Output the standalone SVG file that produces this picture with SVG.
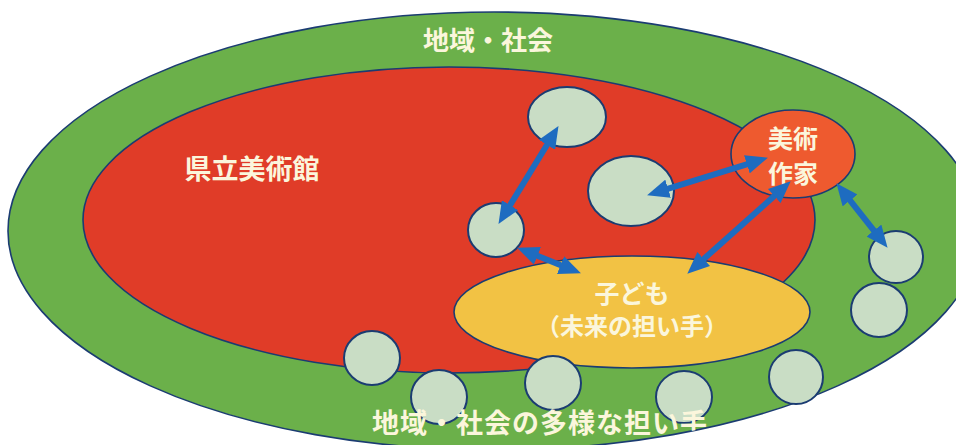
<svg xmlns="http://www.w3.org/2000/svg" width="956" height="445" viewBox="0 0 956 445">
  <defs>
    <style>
      .ring { stroke: #1b3c72; stroke-width: 1.6; }
      .member { fill: #c9ddc5; stroke: #1b3c72; stroke-width: 2; }
      .label { font-family: "Noto Sans CJK JP", "Noto Sans CJK SC", sans-serif; font-weight: bold; fill: #fbf6dc; text-anchor: middle; }
      .conn { stroke: #1e6cc0; stroke-width: 6; fill: none; marker-start: url(#head); marker-end: url(#head); }
    </style>
    <marker id="head" viewBox="0 0 22 19" refX="9" refY="9.5" markerWidth="22" markerHeight="19" markerUnits="userSpaceOnUse" orient="auto-start-reverse">
      <path d="M0,0 L22,9.5 L0,19 z" fill="#1e6cc0"/>
    </marker>
    <clipPath id="outerClip">
      <ellipse cx="494" cy="231" rx="486" ry="219"/>
    </clipPath>
  </defs>

  <rect x="0" y="0" width="956" height="445" fill="#ffffff"/>

  <g id="society">
    <ellipse class="ring" cx="494" cy="231" rx="486" ry="219" fill="#6bb04a"/>
    <text class="label" x="488" y="50" font-size="26">地域・社会</text>
  </g>

  <g id="museum">
    <ellipse class="ring" cx="449" cy="220" rx="366" ry="153" fill="#e03c28"/>
    <text class="label" x="252" y="179" font-size="27">県立美術館</text>
  </g>

  <g id="children">
    <ellipse class="ring" cx="632" cy="312" rx="178" ry="56" fill="#f2c244"/>
    <text class="label" font-size="25"><tspan x="632" y="303">子ども</tspan><tspan x="632" y="335" font-size="24">（未来の担い手）</tspan></text>
  </g>

  <g id="member-1"><ellipse class="member" cx="567" cy="117" rx="39" ry="30"/></g>
  <g id="member-2"><ellipse class="member" cx="631" cy="191" rx="43" ry="35"/></g>
  <g id="member-3"><ellipse class="member" cx="496" cy="230" rx="28" ry="27"/></g>
  <g id="member-4"><ellipse class="member" cx="896" cy="257" rx="27" ry="26"/></g>
  <g id="member-5"><ellipse class="member" cx="879" cy="310" rx="28" ry="27"/></g>
  <g id="member-6"><ellipse class="member" cx="372" cy="358" rx="28" ry="27"/></g>
  <g id="member-7"><ellipse class="member" cx="439" cy="397" rx="28" ry="27"/></g>
  <g id="member-8"><ellipse class="member" cx="553" cy="383" rx="28" ry="27"/></g>
  <g id="member-9"><ellipse class="member" cx="684" cy="397" rx="28" ry="26"/></g>
  <g id="member-10"><ellipse class="member" cx="796" cy="377" rx="27" ry="27"/></g>

  <g id="artist">
    <ellipse class="ring" cx="793" cy="154" rx="62" ry="44" fill="#ee5a2f"/>
    <text class="label" font-size="25"><tspan x="793" y="148">美術</tspan><tspan x="793" y="183">作家</tspan></text>
  </g>

  <g id="connectors">
    <line class="conn" x1="551.7" y1="137.2" x2="505.3" y2="212.8"/>
    <line class="conn" x1="659.5" y1="191.4" x2="755.5" y2="161.6"/>
    <line class="conn" x1="529.1" y1="252.5" x2="568.9" y2="268.5"/>
    <line class="conn" x1="781" y1="190" x2="697" y2="265"/>
    <line class="conn" x1="844.5" y1="193.4" x2="879.5" y2="237.6"/>
  </g>

  <g id="society-members-label" clip-path="url(#outerClip)">
    <text class="label" x="372" y="433" font-size="27" letter-spacing="1" style="text-anchor:start">地域・社会の多様な担い手</text>
  </g>
</svg>
